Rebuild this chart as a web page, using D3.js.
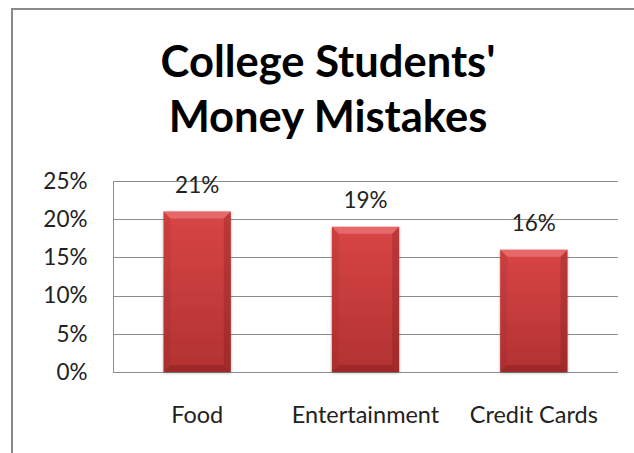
<!DOCTYPE html>
<html>
<head>
<meta charset="utf-8">
<script src="https://cdn.jsdelivr.net/npm/d3@7"></script>
<style>
  html, body { margin: 0; padding: 0; background: #fff; }
  svg { display: block; }
</style>
</head>
<body>
<svg id="chart" width="634" height="453"></svg>
<script>
// Survey results: share of students naming each spending category
const categories = ["Food", "Entertainment", "Credit Cards"];
const values = [0.21, 0.19, 0.16];
const yTicks = [0, 0.05, 0.10, 0.15, 0.20, 0.25];
const titleLines = ["College Students'", "Money Mistakes"];

const svg = d3.select("#chart");
const W = 634, H = 453;
const font = "Lato, 'Open Sans', sans-serif";
const textColor = "#222";

// outer frame of the chart area
svg.append("rect")
  .attr("x", 12).attr("y", 9)
  .attr("width", W + 20).attr("height", H + 20)
  .attr("fill", "#fff")
  .attr("stroke", "#8a8a8a").attr("stroke-width", 2);

const plot = { left: 113, right: 618, top: 181, bottom: 372 };

const x = d3.scaleBand()
  .domain(categories)
  .range([plot.left, plot.right])
  .paddingInner(0.6)
  .paddingOuter(0.3);

const y = d3.scaleLinear()
  .domain([0, 0.25])
  .range([plot.bottom, plot.top]);

// defs: bar gradient and shadow
const defs = svg.append("defs");
const grad = defs.append("linearGradient")
  .attr("id", "barFill").attr("x1", 0).attr("y1", 0).attr("x2", 0).attr("y2", 1);
grad.append("stop").attr("offset", "0%").attr("stop-color", "#d84545");
grad.append("stop").attr("offset", "100%").attr("stop-color", "#b23232");

const shadow = defs.append("filter").attr("id", "barShadow")
  .attr("x", "-20%").attr("y", "-10%").attr("width", "140%").attr("height", "120%");
shadow.append("feDropShadow")
  .attr("dx", 0).attr("dy", 1).attr("stdDeviation", 1.5)
  .attr("flood-color", "#000").attr("flood-opacity", 0.3);

// title
svg.append("g").selectAll("text")
  .data(titleLines)
  .join("text")
  .attr("x", 328)
  .attr("y", (d, i) => 77 + i * 55)
  .attr("text-anchor", "middle")
  .attr("font-family", font)
  .attr("font-weight", "bold")
  .attr("font-size", 43.5)
  .attr("fill", "#000")
  .text(d => d);

// horizontal gridlines
svg.append("g").selectAll("line")
  .data(yTicks)
  .join("line")
  .attr("x1", plot.left).attr("x2", plot.right)
  .attr("y1", d => Math.round(y(d)) + 0.5)
  .attr("y2", d => Math.round(y(d)) + 0.5)
  .attr("stroke", "#8c8c8c").attr("stroke-width", 1);

// y axis
const yAxis = d3.axisLeft(y)
  .tickValues(yTicks)
  .tickFormat(d3.format(".0%"))
  .tickSize(0)
  .tickPadding(26);
const yg = svg.append("g")
  .attr("transform", `translate(${plot.left + 0.5},0)`)
  .call(yAxis);
yg.select(".domain").attr("stroke", "#8c8c8c").attr("d", `M0,${plot.top}V${plot.bottom}`);
yg.selectAll("text")
  .attr("font-family", font)
  .attr("font-size", 22.5)
  .attr("fill", textColor);

// x axis labels
const xAxis = d3.axisBottom(x).tickSize(0).tickPadding(0);
const xg = svg.append("g")
  .attr("transform", `translate(0,${plot.bottom})`)
  .call(xAxis);
xg.select(".domain").remove();
xg.selectAll("text")
  .attr("y", 51)
  .attr("dy", 0)
  .attr("font-family", font)
  .attr("font-size", 23.5)
  .attr("fill", textColor);

// bars with bevelled edges
const bars = svg.append("g").selectAll("g")
  .data(categories.map((c, i) => ({ c, v: values[i] })))
  .join("g");

bars.append("rect")
  .attr("x", d => x(d.c))
  .attr("y", d => y(d.v))
  .attr("width", x.bandwidth())
  .attr("height", d => y(0) - y(d.v))
  .attr("fill", "url(#barFill)")
  .attr("filter", "url(#barShadow)");

const bev = 7;
function bevel(d, side) {
  const x0 = x(d.c), x1 = x0 + x.bandwidth();
  const y0 = y(d.v), y1 = y(0);
  if (side === "top") return [[x0, y0], [x1, y0], [x1 - bev, y0 + bev], [x0 + bev, y0 + bev]];
  if (side === "left") return [[x0, y0], [x0 + bev, y0 + bev], [x0 + bev, y1 - bev], [x0, y1]];
  if (side === "right") return [[x1, y0], [x1 - bev, y0 + bev], [x1 - bev, y1 - bev], [x1, y1]];
  return [[x0, y1], [x0 + bev, y1 - bev], [x1 - bev, y1 - bev], [x1, y1]];
}
const bevelStyle = {
  top: ["#f28080", 0.6],
  left: ["#7a1818", 0.12],
  right: ["#6e1515", 0.25],
  bottom: ["#6e1515", 0.3]
};
Object.keys(bevelStyle).forEach(side => {
  bars.append("polygon")
    .attr("points", d => bevel(d, side).map(p => p.join(",")).join(" "))
    .attr("fill", bevelStyle[side][0])
    .attr("fill-opacity", bevelStyle[side][1]);
});

// value labels
bars.append("text")
  .attr("x", d => x(d.c) + x.bandwidth() / 2)
  .attr("y", d => y(d.v) - 19)
  .attr("text-anchor", "middle")
  .attr("font-family", font)
  .attr("font-size", 22.5)
  .attr("fill", textColor)
  .text(d => d3.format(".0%")(d.v));
</script>
</body>
</html>
